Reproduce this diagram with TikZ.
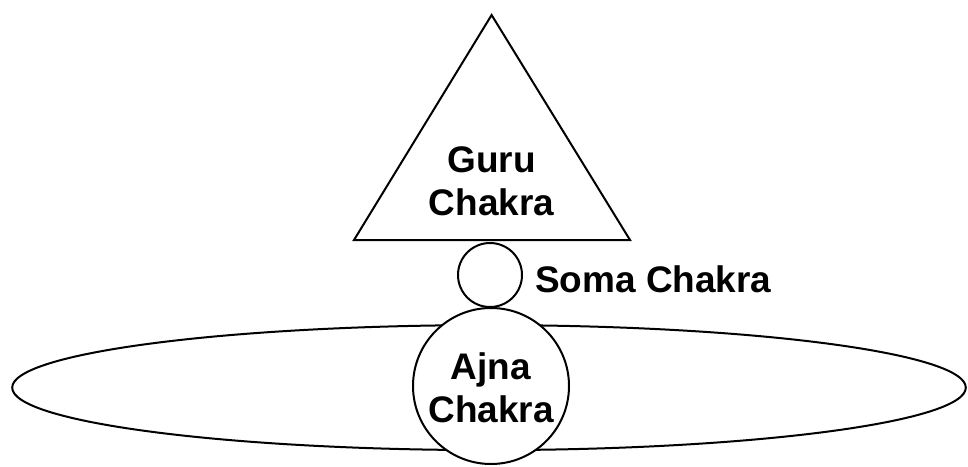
\documentclass[tikz,border=0pt]{standalone}
\usepackage{fontspec}
\setmainfont{Liberation Sans}
\usetikzlibrary{positioning}
\tikzset{
  chakra/.style={line width=0.05cm, color=black},
  label/.style={font=\bfseries\fontsize{26.3}{30.6}\selectfont, align=center, inner sep=0pt}
}

\begin{document}
\begin{tikzpicture}
			%%%%% START %%%%%
			\useasboundingbox (0, 0) rectangle (24.2, 11.65);
			
			% guru triangle
			\draw[chakra] (12.29, 11.275) -- (15.75, 5.65) -- (8.85, 5.65) -- cycle;
			\node[label] (guru) at (12.29, 7.13) {Guru\\Chakra};
			
			% soma
			\draw[chakra] (12.25, 4.775) circle (0.8);
			\node[label, anchor=west] (soma) at (13.37, 4.66) {Soma Chakra};
			
			% ajna with the wide ellipse
			\draw[chakra] (12.225, 1.96) ellipse (11.92 and 1.5625);
			\draw[chakra, fill=white] (12.275, 2.0) circle (1.95);
			\node[label] (ajna) at (12.275, 1.95) {Ajna\\Chakra};
			
			%%%%% END %%%%%
\end{tikzpicture}
\end{document}
